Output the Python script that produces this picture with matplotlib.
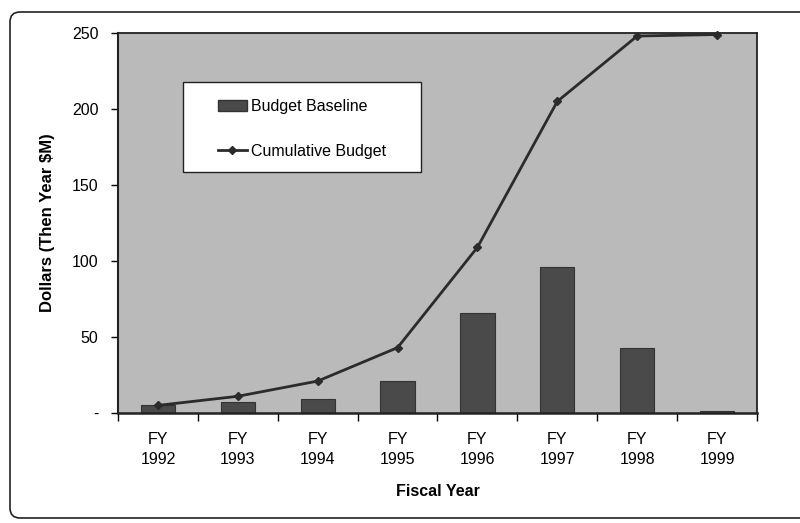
import matplotlib
matplotlib.use("Agg")
import matplotlib.pyplot as plt
from matplotlib.patches import FancyBboxPatch, Rectangle, Patch
from matplotlib.lines import Line2D

plt.rcParams['font.family'] = ['Liberation Sans', 'DejaVu Sans']

years = ["FY\n1992", "FY\n1993", "FY\n1994", "FY\n1995", "FY\n1996", "FY\n1997", "FY\n1998", "FY\n1999"]
budget_baseline = [5, 7, 9, 21, 66, 96, 43, 1]
cumulative_budget = [5, 11, 21, 43, 109, 205, 248, 249]
y_ticks = [0, 50, 100, 150, 200, 250]
y_tick_labels = ["-", "50", "100", "150", "200", "250"]

W, H = 800, 523
fig = plt.figure(figsize=(W / 100, H / 100), dpi=100)

# outer rounded frame (display pixel coords)
frame = FancyBboxPatch((10, 5), 820, 506, boxstyle="round,pad=0,rounding_size=10",
                       transform=None, facecolor="none", edgecolor="#222222",
                       linewidth=1.2, zorder=-1)
fig.patches.append(frame)

ax_l, ax_r, ax_t, ax_b = 118, 757, 33, 413
ax = fig.add_axes([ax_l / W, (H - ax_b) / H, (ax_r - ax_l) / W, (ax_b - ax_t) / H])
ax.set_facecolor("#bababa")

x = list(range(len(years)))
ax.bar(x, budget_baseline, width=0.43, color="#4a4a4a", edgecolor="#333333",
       linewidth=0.8, zorder=2)
ax.plot(x, cumulative_budget, color="#2b2b2b", linewidth=2.0, marker="D",
        markersize=4, zorder=3, clip_on=False)

ax.set_xlim(-0.5, len(years) - 0.5)
ax.set_ylim(0, 250)

ax.set_yticks(y_ticks)
ax.set_yticklabels(y_tick_labels, fontsize=11.5)
ax.tick_params(axis="y", direction="out", length=5, width=1, pad=9)

ax.set_xticks([i - 0.5 for i in range(len(years) + 1)])
ax.set_xticklabels([])
ax.set_xticks(x, minor=True)
ax.set_xticklabels(years, minor=True, fontsize=11.5, linespacing=1.4)
ax.tick_params(axis="x", which="major", direction="out", length=6, width=1)
ax.tick_params(axis="x", which="minor", length=0, pad=14)

for s in ax.spines.values():
    s.set_linewidth(1.3)
    s.set_color("#222222")
ax.spines["left"].set_linewidth(1.5)
ax.spines["bottom"].set_linewidth(1.8)

ax.set_ylabel("Dollars (Then Year $M)", fontsize=12, fontweight="bold", labelpad=12)
ax.set_xlabel("Fiscal Year", fontsize=11.5, fontweight="bold", labelpad=12)

# legend box (drawn manually for exact padding)
lx0, lx1, ly0, ly1 = 183, 421, 82, 172
def to_ax(px, py):
    return ((px - ax_l) / (ax_r - ax_l), (ax_b - py) / (ax_b - ax_t))
bx0, by0 = to_ax(lx0, ly1)
bx1, by1 = to_ax(lx1, ly0)
ax.add_patch(Rectangle((bx0, by0), bx1 - bx0, by1 - by0, transform=ax.transAxes,
                       facecolor="white", edgecolor="#222222", linewidth=1.0, zorder=4))

handles = [Patch(facecolor="#4a4a4a", edgecolor="#333333"),
           Line2D([0], [0], color="#2b2b2b", linewidth=2.0, marker="D", markersize=4)]
leg = ax.legend(handles, ["Budget Baseline", "Cumulative Budget"],
                loc="center", bbox_to_anchor=((bx0 + bx1) / 2, (by0 + by1) / 2 - 0.005),
                fontsize=11.5, frameon=False, borderpad=0, labelspacing=1.9,
                handlelength=1.85, handletextpad=0.25, borderaxespad=0)
leg.set_zorder(5)

fig.savefig("out.png", dpi=100)
